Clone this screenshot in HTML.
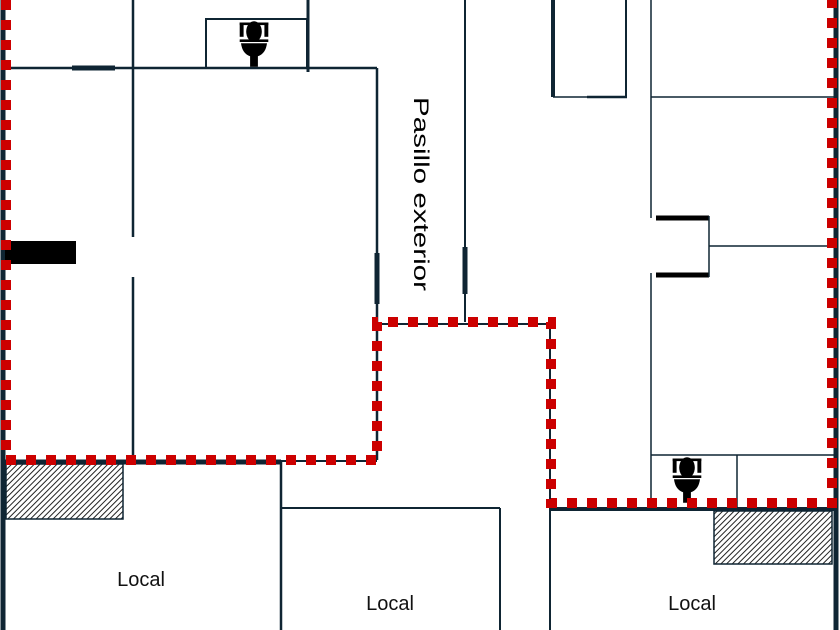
<!DOCTYPE html>
<html><head><meta charset="utf-8"><style>
html,body{margin:0;padding:0;background:#fff;}
svg{display:block;}
</style></head><body>
<svg width="840" height="630" viewBox="0 0 840 630" xmlns="http://www.w3.org/2000/svg">
<defs>
<pattern id="h" width="4" height="4" patternUnits="userSpaceOnUse" patternTransform="rotate(45)">
<rect width="4" height="4" fill="#fff"/><line x1="0" y1="0" x2="0" y2="4" stroke="#222" stroke-width="2"/>
</pattern>
<g id="wc" fill="#000">
<ellipse cx="0" cy="-8" rx="6" ry="8"/>
<rect x="-11" y="-15" width="3" height="11"/><rect x="8" y="-15" width="3" height="11"/>
<rect x="-11" y="-15" width="22" height="2"/>
<rect x="-11" y="-2" width="22" height="2"/>
<path d="M-10 1 H10 Q9 9 3 11 V19 H-3 V11 Q-9 9 -10 1Z"/>
</g>
</defs>
<g stroke="#0f2533" fill="none" stroke-linecap="butt">
<line x1="3" y1="0" x2="3" y2="630" stroke-width="5"/>
<line x1="836" y1="0" x2="836" y2="630" stroke-width="5"/>
<line x1="6" y1="68" x2="377" y2="68" stroke-width="2.5"/>
<line x1="72" y1="68" x2="115" y2="68" stroke-width="5"/>
<line x1="133" y1="0" x2="133" y2="237" stroke-width="2.5"/>
<line x1="133" y1="277" x2="133" y2="460" stroke-width="2.5"/>
<line x1="377" y1="68" x2="377" y2="460" stroke-width="2.5"/>
<line x1="377" y1="253" x2="377" y2="304" stroke-width="5"/>
<rect x="206" y="19" width="101" height="49" stroke-width="2"/>
<line x1="308" y1="0" x2="308" y2="72" stroke-width="3"/>
<line x1="5" y1="462" x2="281" y2="462" stroke-width="5"/>
<line x1="281" y1="461" x2="377" y2="461" stroke-width="2"/>
<line x1="281" y1="462" x2="281" y2="630" stroke-width="2.5"/>
<line x1="281" y1="508" x2="500" y2="508" stroke-width="2"/>
<line x1="500" y1="508" x2="500" y2="630" stroke-width="2"/>
<line x1="465" y1="0" x2="465" y2="322" stroke-width="2"/>
<line x1="465" y1="247" x2="465" y2="294" stroke-width="5"/>
<line x1="377" y1="324" x2="551" y2="324" stroke-width="2"/>
<line x1="550" y1="322" x2="550" y2="508" stroke-width="2"/>
<line x1="553" y1="0" x2="553" y2="97" stroke-width="4"/>
<line x1="626" y1="0" x2="626" y2="97" stroke-width="2"/>
<line x1="553" y1="97" x2="627" y2="97" stroke-width="1.5"/>
<line x1="587" y1="97" x2="627" y2="97" stroke-width="2.5"/>
<line x1="651" y1="0" x2="651" y2="218" stroke-width="1.5"/>
<line x1="651" y1="273" x2="651" y2="508" stroke-width="1.5"/>
<line x1="651" y1="97" x2="834" y2="97" stroke-width="1.5"/>
<line x1="656" y1="218" x2="709" y2="218" stroke-width="5" stroke="#000"/>
<line x1="656" y1="275" x2="709" y2="275" stroke-width="5" stroke="#000"/>
<line x1="709" y1="216" x2="709" y2="277" stroke-width="1.5"/>
<line x1="709" y1="246" x2="834" y2="246" stroke-width="1.5"/>
<line x1="651" y1="455" x2="834" y2="455" stroke-width="1.5"/>
<line x1="737" y1="455" x2="737" y2="508" stroke-width="1.5"/>
<line x1="551" y1="509" x2="834" y2="509" stroke-width="4"/>
<line x1="550" y1="508" x2="550" y2="630" stroke-width="2"/>
</g>
<rect x="5" y="241" width="71" height="23" fill="#000"/>
<rect x="6" y="464" width="117" height="55" fill="url(#h)" stroke="#0f2533" stroke-width="1.5"/>
<rect x="714" y="511" width="118" height="53" fill="url(#h)" stroke="#0f2533" stroke-width="1.5"/>
<use href="#wc" transform="translate(254,42) scale(1.3)"/>
<use href="#wc" transform="translate(687,478) scale(1.3)"/>
<path d="M6 0 V460 H377 V322 H551 V503 H832 V0" fill="none" stroke="#cc0000" stroke-width="10" stroke-dasharray="10 10"/>
<text x="0" y="0" transform="translate(414,97) rotate(90)" font-family="Liberation Sans, sans-serif" font-size="21" fill="#000" textLength="194" lengthAdjust="spacingAndGlyphs">Pasillo exterior</text>
<g font-family="Liberation Sans, sans-serif" font-size="20" fill="#111" text-anchor="middle">
<text x="141" y="586">Local</text>
<text x="390" y="610">Local</text>
<text x="692" y="610">Local</text>
</g>
</svg>
</body></html>
